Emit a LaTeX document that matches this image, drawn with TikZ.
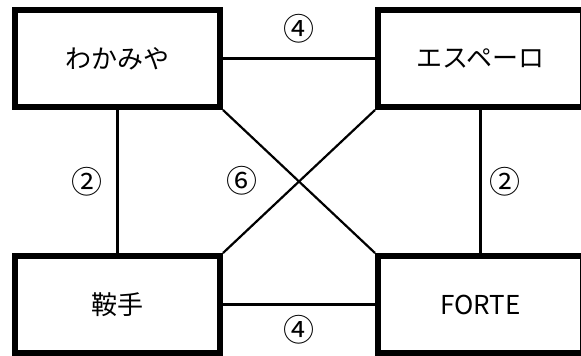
\documentclass[tikz,border=0pt]{standalone}
\usepackage{fontspec}
\usepackage{tikz}
\newfontfamily\jpfont{Noto Sans CJK JP}
\tikzset{
  every node/.style = {font = \jpfont\fontsize{26}{30}\selectfont}
}
\tikzset{
  shop/.style = {draw, line width=6pt, minimum width=205pt, minimum height=97pt, inner sep=0pt},
  count/.style = {font = \jpfont\fontsize{31}{34}\selectfont, inner sep=0pt}
}
\tikzset{
  link/.style = {line width=2.2pt}
}

\begin{document}
\begin{tikzpicture}[x=1pt, y=-1pt]
  \useasboundingbox (0,0) rectangle (581,356);

  \node[shop] (W) at (117.5,58.5) {わかみや};
  \node[shop] (E) at (480.5,58.5) {エスペーロ};
  \node[shop] (A) at (117.5,304.5) {鞍手};
  \node[shop] (F) at (480.5,304.5) {FORTE};

  \draw[link] (W.east) -- node[count, above=14pt] (WE) {④} (E.west);
  \draw[link] (A.east) -- node[count, below=10pt] (AF) {④} (F.west);
  \draw[link] (W.south) -- node[count, left=14pt] (WA) {②} (A.north);
  \draw[link] (E.south) -- node[count, right=8pt] (EF) {②} (F.north);

  \draw[link] (W.south east) -- (F.north west);
  \draw[link] (E.south west) -- (A.north east);
  \node[count] (X) at (242,181) {⑥};
\end{tikzpicture}
\end{document}
